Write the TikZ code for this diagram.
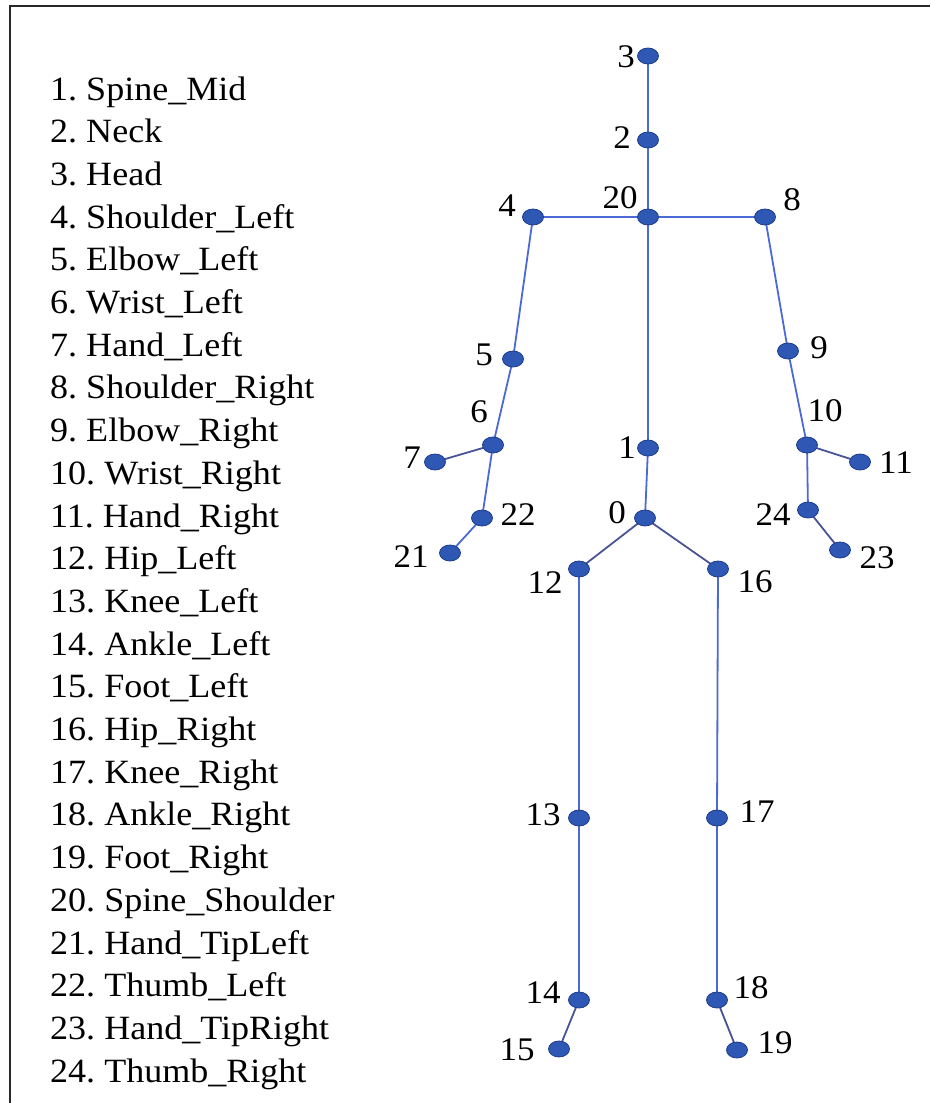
\documentclass[tikz,border=0pt]{standalone}
\usepackage{fontspec}
\setmainfont[FakeStretch=1.06]{Liberation Serif}
\usetikzlibrary{shapes.geometric,backgrounds}
\definecolor{jointfill}{RGB}{47,88,180}
\definecolor{jointrim}{RGB}{30,60,140}
\definecolor{bone}{RGB}{76,106,214}
\definecolor{bonedark}{RGB}{72,84,150}
\definecolor{framegray}{RGB}{40,40,40}
\tikzset{
  joint/.style={ellipse, fill=jointfill, draw=jointrim, line width=0.8pt,
    minimum width=21pt, minimum height=16pt, inner sep=0pt},
  bonestyle/.style={draw=bone, line width=1.8pt},
  bonedarkstyle/.style={draw=bonedark, line width=1.8pt},
  jlabel/.style={inner sep=0pt, font=\fontsize{33}{40}\selectfont},
  legendline/.style={anchor=base west, inner sep=0pt,
    font=\fontsize{34}{40}\selectfont\frenchspacing},
}
\begin{document}
\begin{tikzpicture}[x=1pt,y=-1pt]
\useasboundingbox (0,0) rectangle (930,1103);
% frame on the top and left edges
\draw[framegray, line width=2pt] (10,1103) -- (10,6) -- (930,6);

% legend of joint names
\foreach \t [count=\i] in {1. Spine\_Mid, 2. Neck, 3. Head, 4. Shoulder\_Left,
  5. Elbow\_Left, 6. Wrist\_Left, 7. Hand\_Left, 8. Shoulder\_Right,
  9. Elbow\_Right, 10. Wrist\_Right, 11. Hand\_Right, 12. Hip\_Left,
  13. Knee\_Left, 14. Ankle\_Left, 15. Foot\_Left, 16. Hip\_Right,
  17. Knee\_Right, 18. Ankle\_Right, 19. Foot\_Right, 20. Spine\_Shoulder,
  21. Hand\_TipLeft, 22. Thumb\_Left, 23. Hand\_TipRight, 24. Thumb\_Right}
  \node[legendline] (leg\i) at (50,{100+42.7*(\i-1)}) {\t};

% skeleton joints
\node[joint] (j3)  at (648,56)   {};
\node[joint] (j2)  at (648,140)  {};
\node[joint] (j20) at (648,217)  {};
\node[joint] (j4)  at (533,217)  {};
\node[joint] (j8)  at (765,217)  {};
\node[joint] (j5)  at (513,359)  {};
\node[joint] (j9)  at (788,351)  {};
\node[joint] (j6)  at (493,445)  {};
\node[joint] (j7)  at (435,462)  {};
\node[joint] (j10) at (807,445)  {};
\node[joint] (j11) at (860,462)  {};
\node[joint] (j1)  at (648,448)  {};
\node[joint] (j0)  at (645,518)  {};
\node[joint] (j22) at (482,518)  {};
\node[joint] (j21) at (450,553)  {};
\node[joint] (j24) at (808,510)  {};
\node[joint] (j23) at (840,550)  {};
\node[joint] (j12) at (579,569)  {};
\node[joint] (j16) at (718,569)  {};
\node[joint] (j13) at (579,818)  {};
\node[joint] (j17) at (717,818)  {};
\node[joint] (j14) at (579,1000) {};
\node[joint] (j18) at (717,1000) {};
\node[joint] (j15) at (559,1049) {};
\node[joint] (j19) at (737,1050) {};

% joint numbers
\node[jlabel] (n3)  at (626,57)   {3};
\node[jlabel] (n2)  at (622,138)  {2};
\node[jlabel] (n20) at (620,198)  {20};
\node[jlabel] (n4)  at (507,206)  {4};
\node[jlabel] (n8)  at (792,200)  {8};
\node[jlabel] (n5)  at (484,355)  {5};
\node[jlabel] (n9)  at (819,348)  {9};
\node[jlabel] (n6)  at (479,412)  {6};
\node[jlabel] (n10) at (825,411)  {10};
\node[jlabel] (n7)  at (412,458)  {7};
\node[jlabel] (n11) at (896,463)  {11};
\node[jlabel] (n1)  at (627,448)  {1};
\node[jlabel] (n0)  at (617,513)  {0};
\node[jlabel] (n22) at (518,515)  {22};
\node[jlabel] (n21) at (411,557)  {21};
\node[jlabel] (n24) at (773,515)  {24};
\node[jlabel] (n23) at (877,558)  {23};
\node[jlabel] (n12) at (545,583)  {12};
\node[jlabel] (n16) at (755,582)  {16};
\node[jlabel] (n13) at (543,815)  {13};
\node[jlabel] (n17) at (757,812)  {17};
\node[jlabel] (n14) at (543,993)  {14};
\node[jlabel] (n18) at (751,988)  {18};
\node[jlabel] (n15) at (517,1050) {15};
\node[jlabel] (n19) at (775,1043) {19};

% bones, drawn beneath the joints
\begin{scope}[on background layer]
\foreach \a/\b in {3/2, 2/20, 20/4, 20/8, 20/1, 1/0, 4/5, 5/6, 6/22,
  22/21, 8/9, 9/10, 10/24, 12/13, 13/14, 16/17, 17/18}
  \draw[bonestyle] (j\a.center) -- (j\b.center);
\foreach \a/\b in {6/7, 10/11, 24/23, 0/12, 0/16, 14/15, 18/19}
  \draw[bonedarkstyle] (j\a.center) -- (j\b.center);
\end{scope}
\end{tikzpicture}
\end{document}
